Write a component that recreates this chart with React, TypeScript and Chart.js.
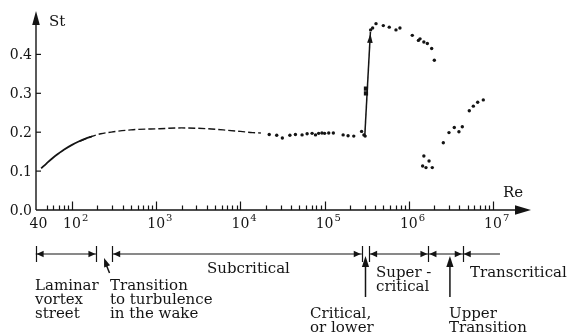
import React, { useEffect, useRef } from "react";
import { Chart, registerables } from "chart.js";

Chart.register(...registerables);

// ---------- data ----------
// Laminar vortex street (solid curve)
const laminarRe = [43, 50, 60, 70, 80, 100, 120, 145, 172];
const laminarSt = [0.107, 0.12, 0.135, 0.146, 0.155, 0.1675, 0.176, 0.1836, 0.189];

// Subcritical smooth curve (dashed)
const dashedRe = [124, 170, 220, 310, 500, 1100, 2000, 4000, 7000, 10000, 14000, 17500];
const dashedSt = [0.177, 0.189, 0.196, 0.201, 0.206, 0.209, 0.211, 0.209, 0.205, 0.202, 0.199, 0.198];

// Subcritical measured points
const subRe = [22000, 27000, 31500, 38700, 45000, 54000, 62000, 71000, 78000, 85000, 93000, 100000, 112000, 127000, 166000, 190000, 222000, 275000, 293000, 303000];
const subSt = [0.194, 0.192, 0.185, 0.192, 0.194, 0.193, 0.196, 0.197, 0.193, 0.197, 0.198, 0.197, 0.198, 0.198, 0.193, 0.191, 0.19, 0.202, 0.193, 0.19];

// Critical jump
const jumpRe = [300000, 350000];
const jumpSt = [0.19, 0.458];
const blobRe = [310000, 310000];
const blobSt = [0.3, 0.312];

// Supercritical points
const superRe = [352000, 372000, 408000, 498000, 586000, 704000, 785000, 1.1e6, 1.3e6, 1.36e6, 1.51e6, 1.66e6, 1.87e6, 2.01e6];
const superSt = [0.463, 0.468, 0.479, 0.474, 0.47, 0.463, 0.468, 0.449, 0.436, 0.44, 0.432, 0.428, 0.415, 0.385];

// Low cluster
const lowRe = [1.51e6, 1.74e6, 1.46e6, 1.6e6, 1.9e6];
const lowSt = [0.139, 0.126, 0.113, 0.109, 0.109];

// Transcritical rising points
const transRe = [2.57e6, 3.0e6, 3.47e6, 3.94e6, 4.32e6, 5.23e6, 5.84e6, 6.58e6, 7.67e6];
const transSt = [0.173, 0.199, 0.212, 0.201, 0.214, 0.255, 0.267, 0.277, 0.283];

// Axis ticks
const xTickValues = [40, 1e2, 1e3, 1e4, 1e5, 1e6, 1e7];
const xTickBase = ["40", "10", "10", "10", "10", "10", "10"];
const xTickSup = ["", "2", "3", "4", "5", "6", "7"];
const xMajorTicks = [1e2, 1e3, 1e4, 1e5, 1e6, 1e7];
const xMinorFirst = [50, 60, 70, 80, 90];
const xMinorMultipliers = [2, 3, 4, 5, 6, 7, 8, 9];
const xMinorDecades = [1e2, 1e3, 1e4, 1e5, 1e6];
const yTickValues = [0, 0.1, 0.2, 0.3, 0.4];
const yTickLabels = ["0.0", "0.1", "0.2", "0.3", "0.4"];

// Flow regimes (Re)
const segFrom = [37, 300, 338000, 1.71e6, 4.37e6];
const segTo = [195, 276000, 1.71e6, 4.37e6, 1.21e7];
const segRightArrow = [true, true, true, true, false];
const barRe = [37, 195, 300, 276000, 338000, 1.71e6, 4.37e6];
const upArrowRe = [306000, 3.08e6];
const slantArrowRe = 240;

const INK = "#141414";
const FONT = '"DejaVu Serif", "Liberation Serif", serif';

const pts = (xs: number[], ys: number[]) => xs.map((x, i) => ({ x, y: ys[i] }));

function arrowHead(ctx: CanvasRenderingContext2D, x: number, y: number, ang: number, len: number, hw: number) {
  ctx.save();
  ctx.translate(x, y);
  ctx.rotate(ang);
  ctx.beginPath();
  ctx.moveTo(0, 0);
  ctx.lineTo(-len, -hw);
  ctx.lineTo(-len, hw);
  ctx.closePath();
  ctx.fill();
  ctx.restore();
}

const decorPlugin = {
  id: "decor",
  afterDatasetsDraw(chart: any) {
    const ctx: CanvasRenderingContext2D = chart.ctx;
    const xs = chart.scales.x;
    const ys = chart.scales.y;
    const px = (v: number) => xs.getPixelForValue(v);
    const py = (v: number) => ys.getPixelForValue(v);
    const y0 = py(0);
    const xAxis = chart.chartArea.left - 2.5;

    ctx.save();
    ctx.strokeStyle = INK;
    ctx.fillStyle = INK;
    ctx.lineWidth = 1.4;

    // arrowhead on jump line
    {
      const ax = px(jumpRe[0]), ay = py(jumpSt[0]);
      const bx = px(jumpRe[1]), by = py(jumpSt[1]);
      arrowHead(ctx, bx, by + 2, Math.atan2(by - ay, bx - ax), 9, 2.8);
    }

    // axes
    ctx.beginPath();
    ctx.moveTo(xAxis, y0);
    ctx.lineTo(xAxis, 22);
    ctx.moveTo(xAxis, y0);
    ctx.lineTo(518, y0);
    ctx.stroke();
    arrowHead(ctx, xAxis, 11, -Math.PI / 2, 14, 3.8);
    arrowHead(ctx, 531, y0, 0, 16, 4.8);

    // y ticks
    ctx.lineWidth = 1.2;
    ctx.font = `14px ${FONT}`;
    ctx.textAlign = "right";
    ctx.textBaseline = "middle";
    yTickValues.forEach((v, i) => {
      const y = py(v);
      if (v > 0) {
        ctx.beginPath();
        ctx.moveTo(xAxis, y);
        ctx.lineTo(xAxis + 5, y);
        ctx.stroke();
      }
      ctx.fillText(yTickLabels[i], 32, y + 1);
    });

    // x ticks
    const minor: number[] = [...xMinorFirst];
    xMinorDecades.forEach((d) => xMinorMultipliers.forEach((m) => minor.push(d * m)));
    ctx.beginPath();
    minor.forEach((v) => {
      const x = Math.round(px(v)) + 0.5;
      ctx.moveTo(x, y0);
      ctx.lineTo(x, y0 - 4.5);
    });
    xMajorTicks.forEach((v) => {
      const x = Math.round(px(v)) + 0.5;
      ctx.moveTo(x, y0);
      ctx.lineTo(x, y0 - 8.5);
    });
    ctx.stroke();

    // x tick labels
    ctx.textBaseline = "alphabetic";
    xTickValues.forEach((v, i) => {
      const x = px(v);
      ctx.font = `14px ${FONT}`;
      ctx.textAlign = "center";
      ctx.fillText(xTickBase[i], x, 228);
      if (xTickSup[i]) {
        const w = ctx.measureText(xTickBase[i]).width;
        ctx.font = `10px ${FONT}`;
        ctx.textAlign = "left";
        ctx.fillText(xTickSup[i], x + w / 2 + 1, 221);
      }
    });

    // axis titles
    ctx.font = `15px ${FONT}`;
    ctx.textAlign = "left";
    ctx.fillText("St", 49, 26);
    ctx.fillText("Re", 503, 197);

    // regime row
    const ry = 254;
    ctx.lineWidth = 1.2;
    ctx.beginPath();
    barRe.forEach((v) => {
      const x = Math.round(px(v)) + 0.5;
      ctx.moveTo(x, ry - 8);
      ctx.lineTo(x, ry + 8);
    });
    segFrom.forEach((f, i) => {
      ctx.moveTo(px(f), ry);
      ctx.lineTo(px(segTo[i]), ry);
    });
    ctx.stroke();
    segFrom.forEach((f, i) => {
      arrowHead(ctx, px(f) + 1, ry, Math.PI, 7, 3.3);
      if (segRightArrow[i]) arrowHead(ctx, px(segTo[i]) - 1, ry, 0, 7, 3.3);
    });

    // vertical arrows
    ctx.lineWidth = 1.5;
    upArrowRe.forEach((v) => {
      const x = px(v);
      ctx.beginPath();
      ctx.moveTo(x, 297);
      ctx.lineTo(x, 262);
      ctx.stroke();
      arrowHead(ctx, x, 256, -Math.PI / 2, 11, 3.6);
    });
    // slanted arrow
    {
      const tx = px(slantArrowRe), ty = 258;
      const bx = tx + 5.5, by = 273;
      ctx.beginPath();
      ctx.moveTo(bx, by);
      ctx.lineTo(tx + 1.5, ty + 5);
      ctx.stroke();
      arrowHead(ctx, tx, ty, Math.atan2(ty - by, tx - bx), 9, 3.2);
    }

    // regime texts
    ctx.font = `15px ${FONT}`;
    ctx.textAlign = "left";
    const txt = (s: string, x: number, y: number) => ctx.fillText(s, x, y);
    txt("Laminar", 35, 290);
    txt("vortex", 35, 304);
    txt("street", 35, 318);
    txt("Transition", 110, 290);
    txt("to turbulence", 110, 304);
    txt("in the wake", 110, 318);
    txt("Subcritical", 207, 273);
    txt("Super -", 376, 277);
    txt("critical", 376, 291);
    txt("Transcritical", 470, 277);
    txt("Critical,", 310, 318);
    txt("or lower", 310, 332);
    txt("Upper", 449, 318);
    txt("Transition", 449, 332);

    ctx.restore();
  },
};

export default function App() {
  const ref = useRef<HTMLCanvasElement | null>(null);
  useEffect(() => {
    if (!ref.current) return;
    const dot = (xs: number[], ys: number[]) => ({
      data: pts(xs, ys),
      showLine: false,
      pointRadius: 1.7,
      pointBackgroundColor: INK,
      pointBorderWidth: 0,
    });
    const chart = new Chart(ref.current, {
      type: "scatter",
      data: {
        datasets: [
          {
            data: pts(laminarRe, laminarSt),
            showLine: true,
            borderColor: INK,
            borderWidth: 1.8,
            pointRadius: 0,
            cubicInterpolationMode: "monotone",
          } as any,
          {
            data: pts(dashedRe, dashedSt),
            showLine: true,
            borderColor: INK,
            borderWidth: 1.4,
            borderDash: [7, 3],
            pointRadius: 0,
            cubicInterpolationMode: "monotone",
          } as any,
          dot(subRe, subSt),
          {
            data: pts(jumpRe, jumpSt),
            showLine: true,
            borderColor: INK,
            borderWidth: 1.5,
            pointRadius: 0,
          } as any,
          {
            data: pts(blobRe, blobSt),
            showLine: false,
            pointStyle: "rect",
            pointRadius: 3,
            pointBackgroundColor: INK,
            pointBorderWidth: 0,
          } as any,
          dot(superRe, superSt),
          dot(lowRe, lowSt),
          dot(transRe, transSt),
        ],
      },
      options: {
        animation: false,
        responsive: false,
        devicePixelRatio: 1,
        events: [],
        layout: { padding: { left: 38.5, right: 43.5, top: 15.5, bottom: 126 } },
        scales: {
          x: { type: "logarithmic", min: 40, max: 2.5e7, display: false },
          y: { type: "linear", min: 0, max: 0.5, display: false },
        },
        plugins: { legend: { display: false }, tooltip: { enabled: false } },
      } as any,
      plugins: [decorPlugin],
    });
    return () => chart.destroy();
  }, []);
  return (
    <div style={{ position: "fixed", left: 0, top: 0, width: 570, height: 336, background: "#fff" }}>
      <canvas ref={ref} width={570} height={336} style={{ width: 570, height: 336, display: "block" }} />
    </div>
  );
}
